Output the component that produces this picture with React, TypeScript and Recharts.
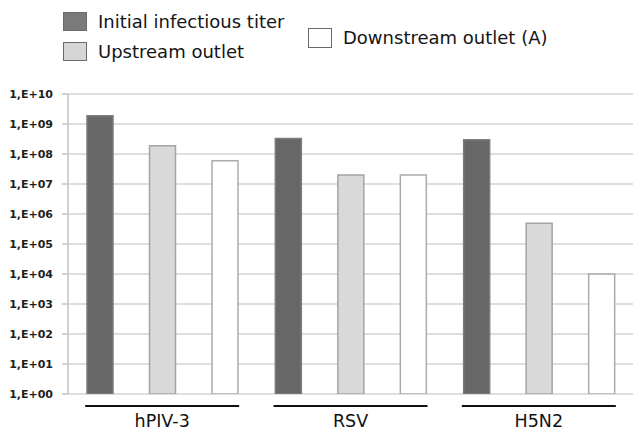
import React from "react";
import { BarChart, Bar, XAxis, YAxis, CartesianGrid } from "recharts";

const categories = ["hPIV-3", "RSV", "H5N2"];
const initialTiter = [1.9e9, 3.3e8, 3.0e8];
const upstreamOutlet = [1.9e8, 2.0e7, 4.9e5];
const downstreamOutlet = [6.0e7, 2.0e7, 1.0e4];
const yTicks = [1, 1e1, 1e2, 1e3, 1e4, 1e5, 1e6, 1e7, 1e8, 1e9, 1e10];

const series = [
  { key: "initial", name: "Initial infectious titer", fill: "#676767", stroke: "#7c7c7c", legendFill: "#7a7a7a" },
  { key: "upstream", name: "Upstream outlet", fill: "#d9d9d9", stroke: "#a4a4a4", legendFill: "#d6d6d6" },
  { key: "downstream", name: "Downstream outlet (A)", fill: "#ffffff", stroke: "#ababab", legendFill: "#ffffff" },
];

const data = categories.map((c, i) => ({
  name: c,
  initial: initialTiter[i],
  upstream: upstreamOutlet[i],
  downstream: downstreamOutlet[i],
}));

const FONT = "'DejaVu Sans', Verdana, sans-serif";

const fmtExp = (v: number) => `1,E+${String(Math.round(Math.log10(v))).padStart(2, "0")}`;

function CategoryTick(props: any) {
  const { x, y, payload } = props;
  return (
    <g>
      <line x1={x - 77} x2={x + 77} y1={y + 12} y2={y + 12} stroke="#111" strokeWidth={2} />
      <text x={x} y={y + 33} textAnchor="middle" fontSize={17.5} fontFamily={FONT} fill="#111">
        {payload.value}
      </text>
    </g>
  );
}

// legend slots, laid out like the original (two stacked on the left, one to the right)
const legendPos = [
  { x: 63, y: 12, h: 19 },
  { x: 63, y: 42, h: 19 },
  { x: 308, y: 28, h: 20 },
];

function LegendOverlay() {
  return (
    <svg width={633} height={80} style={{ position: "absolute", left: 0, top: 0, pointerEvents: "none" }}>
      {series.map((s, i) => {
        const p = legendPos[i];
        return (
          <g key={s.key}>
            <rect x={p.x + 0.5} y={p.y + 0.5} width={23} height={p.h - 1} fill={s.legendFill} stroke="#6a6a6a" strokeWidth={1} />
            <text x={p.x + 35} y={p.y + 16} fontSize={18} fontFamily={FONT} fill="#151515">
              {s.name}
            </text>
          </g>
        );
      })}
    </svg>
  );
}

export default function App() {
  return (
    <div style={{ position: "absolute", left: 0, top: 0, width: 633, height: 431, background: "#fff" }}>
      <BarChart
        width={633}
        height={431}
        data={data}
        margin={{ top: 94, right: 0, left: 0, bottom: 0 }}
        barSize={26}
        barGap={36.5}
      >
        <CartesianGrid vertical={false} stroke="#d3d3d3" strokeWidth={1.5} />
        <XAxis
          dataKey="name"
          height={37}
          axisLine={false}
          tickLine={false}
          tickSize={0}
          tickMargin={0}
          interval={0}
          tick={<CategoryTick />}
        />
        <YAxis
          scale="log"
          domain={[1, 1e10]}
          allowDataOverflow
          ticks={yTicks}
          interval={0}
          width={68}
          tickFormatter={fmtExp}
          axisLine={{ stroke: "#c4c4c4", strokeWidth: 1.5 }}
          tickLine={{ stroke: "#c4c4c4", strokeWidth: 1.5 }}
          tickSize={6}
          tickMargin={9}
          tick={{ fontSize: 11, fontWeight: "bold", fill: "#1e1e1e", fontFamily: FONT }}
        />
        {series.map((s) => (
          <Bar
            key={s.key}
            dataKey={s.key}
            name={s.name}
            fill={s.fill}
            stroke={s.stroke}
            strokeWidth={1.5}
            isAnimationActive={false}
          />
        ))}
      </BarChart>
      <LegendOverlay />
    </div>
  );
}
